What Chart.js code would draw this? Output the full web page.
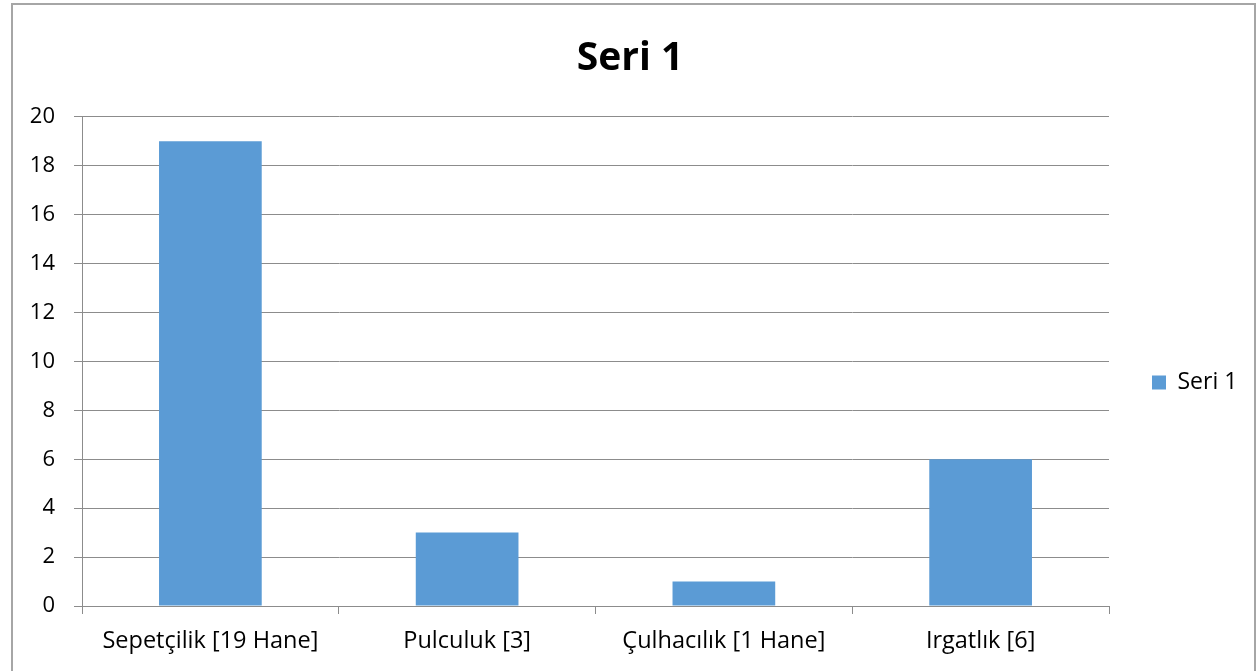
<!DOCTYPE html>
<html>
<head>
<meta charset="utf-8">
<script src="https://cdn.jsdelivr.net/npm/chart.js@4"></script>
<style>
  html, body { margin: 0; padding: 0; background: #fff; }
  #wrap { width: 1260px; height: 671px; }
</style>
</head>
<body>
<div id="wrap"><canvas id="myChart" width="1260" height="671"></canvas></div>
<script>
// chart data
const categories = ['Sepetçilik [19 Hane]', 'Pulculuk [3]', 'Çulhacılık [1 Hane]', 'Irgatlık [6]'];
const seri1 = [19, 3, 1, 6];
const seriesName = 'Seri 1';
const chartTitle = 'Seri 1';

const gridColor = '#8c8c8c';
const fontFamily = "'Open Sans', 'Noto Sans', sans-serif";

// outer frame like the office chart border
const framePlugin = {
  id: 'framePlugin',
  afterDraw: (chart) => {
    const ctx = chart.ctx;
    ctx.save();
    ctx.strokeStyle = '#a6a6a6';
    ctx.lineWidth = 2;
    ctx.strokeRect(12, 4, 1243, 700);
    ctx.restore();
  }
};

// give the legend a fixed column on the right
const legendWidthPlugin = {
  id: 'legendWidthPlugin',
  afterInit: (chart) => {
    const legend = chart.legend;
    const origFit = legend.fit.bind(legend);
    legend.fit = function () {
      origFit();
      this.width = 151;
    };
  }
};

let ctx = document.getElementById('myChart').getContext('2d');

let myChart = new Chart(ctx, {
  type: 'bar',
  data: {
    labels: categories,
    datasets: [{
      label: seriesName,
      data: seri1,
      backgroundColor: '#5b9bd5',
      borderWidth: 0,
      barPercentage: 0.4,
      categoryPercentage: 1.0
    }]
  },
  options: {
    responsive: false,
    animation: false,
    layout: { padding: { left: 0, right: 0, top: 0, bottom: 0 } },
    plugins: {
      title: {
        display: true,
        text: chartTitle,
        color: '#000',
        font: { family: fontFamily, size: 39, weight: 'bold' },
        padding: { top: 35, bottom: 35 }
      },
      legend: {
        position: 'right',
        title: {
          // empty title only used to push the item down
          display: true,
          text: ' ',
          font: { size: 10 },
          padding: { top: 0, bottom: 82 }
        },
        labels: {
          color: '#000',
          font: { family: fontFamily, size: 23 },
          boxWidth: 14,
          boxHeight: 14,
          padding: 43
        }
      },
      tooltip: { enabled: false }
    },
    scales: {
      x: {
        afterFit: (axis) => { axis.height = 65; },
        grid: {
          display: true,
          offset: true,
          drawOnChartArea: false,
          drawTicks: true,
          tickLength: 8,
          color: gridColor
        },
        border: { display: true, color: gridColor },
        ticks: {
          color: '#000',
          padding: 13,
          maxRotation: 0,
          font: { family: fontFamily, size: 23.5 }
        }
      },
      y: {
        min: 0,
        max: 20,
        afterFit: (axis) => { axis.width = 82; },
        grid: {
          color: gridColor,
          tickLength: 8
        },
        border: { display: true, color: gridColor },
        ticks: {
          stepSize: 2,
          color: '#000',
          padding: 19,
          font: { family: fontFamily, size: 22 }
        }
      }
    }
  },
  plugins: [legendWidthPlugin, framePlugin]
});
</script>
</body>
</html>
